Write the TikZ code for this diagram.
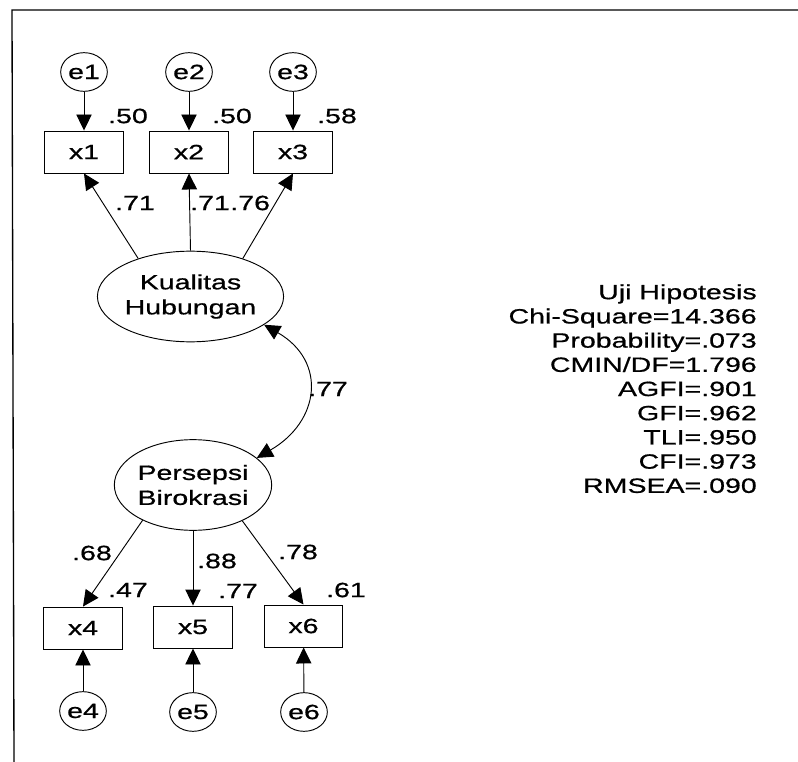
\documentclass[tikz,border=0pt]{standalone}
\usepackage{fontspec}
\setmainfont[FakeStretch=1.38, FakeBold=0.7]{Liberation Sans}
\usetikzlibrary{arrows.meta, shapes.geometric}

\begin{document}
\begin{tikzpicture}[
      x=0.75pt, y=-0.75pt,
      font=\fontsize{15.5}{18.75}\selectfont,
      galat/.style={draw, ellipse, minimum width=35pt, minimum height=29pt,
                    inner sep=0pt, line width=0.7pt},
      indikator/.style={draw, minimum width=59pt, minimum height=31.5pt,
                        inner sep=0pt, line width=0.7pt},
      laten/.style={draw, ellipse, minimum width=118pt, minimum height=68pt,
                    inner sep=0pt, align=center, line width=0.7pt},
      nilai/.style={inner sep=0pt},
      panah/.style={-{Triangle[length=12pt, width=11.5pt]}, line width=0.7pt},
      panah ganda/.style={{Triangle[length=12pt, width=11.5pt]}-{Triangle[length=12pt, width=11.5pt]},
                          line width=0.7pt}]
    \useasboundingbox (0,0) rectangle (798,762);
    % bingkai
    \draw[line width=1pt] (798,10) -- (12,10) -- (14,762);

    % indikator kualitas hubungan
    \node[galat] (e1) at (84,72) {e1};
    \node[galat] (e2) at (189,72) {e2};
    \node[galat] (e3) at (293,72) {e3};
    \node[indikator] (x1) at (84,152) {x1};
    \node[indikator] (x2) at (189,152) {x2};
    \node[indikator] (x3) at (293,152) {x3};
    \node[laten] (kh) at (190.5,296.5) {Kualitas\\Hubungan};

    % indikator persepsi birokrasi
    \node[laten] (pb) at (193,485) {Persepsi\\Birokrasi};
    \node[indikator] (x4) at (83,628) {x4};
    \node[indikator] (x5) at (193,627) {x5};
    \node[indikator] (x6) at (303.5,626) {x6};
    \node[galat] (e4) at (83,711) {e4};
    \node[galat] (e5) at (193,712) {e5};
    \node[galat] (e6) at (304,712) {e6};

    \draw[panah] (e1) -- (x1);
    \draw[panah] (e2) -- (x2);
    \draw[panah] (e3) -- (x3);
    \draw[panah] (kh.144) -- (x1.south);
    \draw[panah] (kh.north) -- (x2.south);
    \draw[panah] (kh.36) -- (x3.south);
    \draw[panah] (pb.215) -- (x4.north);
    \draw[panah] (pb.south) -- (x5.north);
    \draw[panah] (pb.-36) -- (x6.north);
    \draw[panah] (e4) -- (x4);
    \draw[panah] (e5) -- (x5);
    \draw[panah] (e6) -- (x6);
    \draw[panah ganda] (kh.-21) to[out=-30, in=30, looseness=1.4] (pb.23);

    % nilai estimasi
    \node[nilai] (r1) at (128,116) {.50};
    \node[nilai] (r2) at (232,116) {.50};
    \node[nilai] (r3) at (337,116) {.58};
    \node[nilai] (l1) at (135,203) {.71};
    \node[nilai] (l2) at (210,203) {.71};
    \node[nilai, anchor=west] (l3) at (l2.east) {.76};
    \node[nilai] (kor) at (328,389) {.77};
    \node[nilai] (l4) at (92,553) {.68};
    \node[nilai] (l5) at (217,561) {.88};
    \node[nilai] (l6) at (298,552) {.78};
    \node[nilai] (r4) at (128,590) {.47};
    \node[nilai] (r5) at (238,591) {.77};
    \node[nilai] (r6) at (346,590) {.61};

    \node[nilai, align=right, anchor=north east,
          font=\fontsize{15.5}{18.15}\selectfont] (uji) at (757,284)
      {Uji Hipotesis\\Chi-Square=14.366\\Probability=.073\\CMIN/DF=1.796\\
       AGFI=.901\\GFI=.962\\TLI=.950\\CFI=.973\\RMSEA=.090};
  \end{tikzpicture}
\end{document}
